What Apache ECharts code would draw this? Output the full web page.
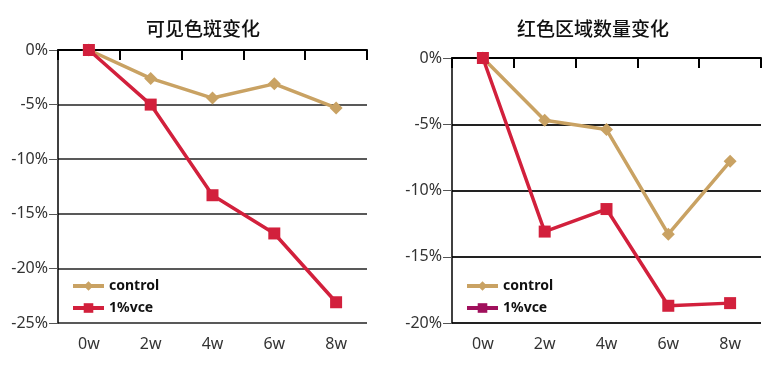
<!DOCTYPE html>
<html><head><meta charset="utf-8">
<script src="https://cdn.jsdelivr.net/npm/echarts@6/dist/echarts.min.js"></script>
<style>html,body{margin:0;padding:0;background:#fff}#c{width:778px;height:367px}</style>
</head><body><div id="c"></div>
<script>
const categories = ['0w','2w','4w','6w','8w'];
const titleLeft = '可见色斑变化';
const titleRight = '红色区域数量变化';
const controlLeft = [0, -2.6, -4.4, -3.1, -5.3];
const vceLeft = [0, -5.0, -13.3, -16.8, -23.1];
const controlRight = [0, -4.7, -5.4, -13.3, -7.8];
const vceRight = [0, -13.1, -11.4, -18.7, -18.5];
const yTicksLeft = {min: -25, max: 0, interval: 5};
const yTicksRight = {min: -20, max: 0, interval: 5};

const tan = '#C9A263';
const red = '#D2203C';
const font = '"Noto Sans", "Noto Sans CJK SC", sans-serif';

function xAxis(i){
  return {type:'category', gridIndex:i, data:categories, boundaryGap:true,
    axisLine:{lineStyle:{color:'#000', width:2}},
    axisTick:{show:true, length:10, lineStyle:{color:'#000', width:2}},
    axisLabel:{color:'#333', fontSize:16, margin:13, fontFamily:font},
    splitLine:{show:false}};
}
function yAxis(i, t, w){
  return {type:'value', gridIndex:i, min:t.min, max:t.max, interval:t.interval,
    axisLine:{show:true, lineStyle:{color:'#000', width:1.5}},
    axisTick:{show:true, length:9, lineStyle:{color:'#555'}},
    axisLabel:{color:'#333', fontSize:16, margin:10, fontFamily:font, formatter:'{value}%'},
    splitLine:{show:true, lineStyle:{color:'#222', width:w}}};
}
function ser(name, data, i, color, sym){
  return {name, type:'line', xAxisIndex:i, yAxisIndex:i, data,
    symbol:sym, symbolSize: sym==='diamond'?13:12, color,
    lineStyle:{color, width:3.5}, itemStyle:{color}, z: name.startsWith('control')?2:3};
}
const legendText = {fontSize:14, fontWeight:'bold', color:'#111', fontFamily:font};
const chart = echarts.init(document.getElementById('c'), null, {renderer:'canvas'});
chart.setOption({
  animation:false,
  title:[
    {text:titleLeft, left:198, top:14, textAlign:'center', textStyle:{fontSize:19, fontWeight:500, color:'#111', fontFamily:'"Noto Sans CJK SC", sans-serif'}},
    {text:titleRight, left:588, top:14, textAlign:'center', textStyle:{fontSize:19, fontWeight:500, color:'#111', fontFamily:'"Noto Sans CJK SC", sans-serif'}}
  ],
  legend:[
    {left:66, top:274, orient:'vertical', itemWidth:31, itemHeight:12, itemGap:8,
     lineStyle:{width:4}, textStyle:legendText,
     data:['control','1%vce']},
    {left:460, top:274, orient:'vertical', itemWidth:31, itemHeight:12, itemGap:8,
     lineStyle:{width:4}, textStyle:legendText,
     data:['control__r', {name:'1%vce__r', itemStyle:{color:'#A0105C'}, lineStyle:{color:'#A0105C', width:4}}],
     formatter: n => n.replace('__r','')}
  ],
  grid:[
    {left:58, right:411, top:50, bottom:44},
    {left:452, right:17, top:58, bottom:44}
  ],
  xAxis:[xAxis(0), xAxis(1)],
  yAxis:[yAxis(0, yTicksLeft, 1.5), yAxis(1, yTicksRight, 2)],
  series:[
    ser('control', controlLeft, 0, tan, 'diamond'),
    ser('1%vce', vceLeft, 0, red, 'rect'),
    ser('control__r', controlRight, 1, tan, 'diamond'),
    ser('1%vce__r', vceRight, 1, red, 'rect')
  ]
});
</script></body></html>
